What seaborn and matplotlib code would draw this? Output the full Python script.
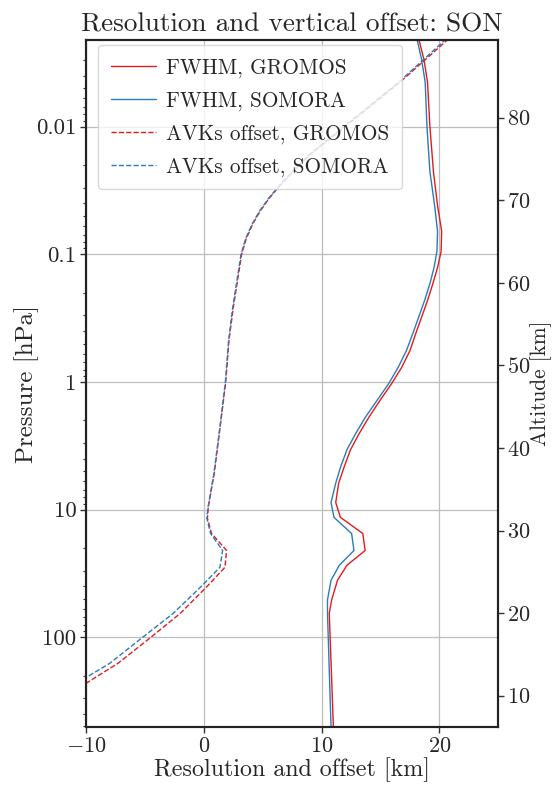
import numpy as np
import pandas as pd
import matplotlib
matplotlib.use("Agg")
import matplotlib.pyplot as plt
import matplotlib.ticker as mticker
import seaborn as sns

# ---- data ----
p_fwhm = [0.00205, 0.003, 0.0045, 0.01, 0.0225, 0.0415, 0.066, 0.095, 0.127, 0.17,
          0.23, 0.31, 0.417, 0.57, 0.77, 1.03, 1.40, 1.9, 2.53, 3.4, 4.67, 6.2, 8.8,
          11.5, 15.4, 20.9, 27.3, 35.8, 51.0, 65.0, 500.0]
fwhm_gromos = [18.25, 18.7, 19.0, 19.2, 19.5, 19.85, 20.2, 20.15, 19.85, 19.45,
               19.0, 18.5, 18.0, 17.5, 16.8, 15.95, 14.95, 14.0, 13.2, 12.45, 11.9, 11.45, 11.2,
               11.6, 13.5, 13.7, 12.15, 11.35, 10.85, 10.65, 11.0]
fwhm_somora = [18.1, 18.5, 18.8, 18.95, 19.2, 19.6, 19.85, 19.8, 19.55, 19.2,
               18.75, 18.25, 17.75, 17.2, 16.5, 15.7, 14.7, 13.7, 12.9, 12.15, 11.6, 11.2, 10.8,
               11.05, 12.55, 12.75, 11.5, 10.8, 10.5, 10.5, 10.8]

p_off = [0.00205, 0.00445, 0.01, 0.0163, 0.0221, 0.029, 0.0366, 0.0463, 0.0585, 0.0753,
         0.1005, 0.261, 0.473, 1.01, 2.11, 5.2, 9.6, 11.7, 15.4, 20.9, 28.3, 40.6, 64.9,
         100.0, 160.0, 229.0, 500.0]
off_gromos = [20.8, 16.7, 12.0, 9.1, 7.66, 6.45, 5.53, 4.75, 4.13, 3.6,
              3.2, 2.5, 2.13, 1.85, 1.42, 0.88, 0.37, 0.3, 0.65, 1.93, 1.79, 0.2, -2.0,
              -4.5, -7.3, -10.0, -15.6]
off_somora = [20.6, 16.6, 11.9, 9.05, 7.6, 6.4, 5.48, 4.7, 4.08, 3.55,
              3.15, 2.45, 2.1, 1.82, 1.4, 0.85, 0.35, 0.25, 0.57, 1.59, 1.36, -0.3, -2.6,
              -5.2, -8.0, -10.8, -16.5]

alt_ticks = [10, 20, 30, 40, 50, 60, 70, 80]
p_ticks = [0.01, 0.1, 1, 10, 100]
p_tick_labels = ["0.01", "0.1", "1", "10", "100"]

RED = "#e31a1c"
BLUE = "#2b7bba"

sns.set_style("ticks")
plt.rcParams.update({
    "font.family": "serif",
    "font.serif": ["cmr10", "DejaVu Serif"],
    "mathtext.fontset": "cm",
    "axes.formatter.use_mathtext": True,
    "axes.unicode_minus": True,
})

fig = plt.figure(figsize=(5.56, 7.86), dpi=100)
ax = fig.add_axes([0.155, 0.075, 0.741, 0.874])

series = [
    (p_fwhm, fwhm_gromos, RED, "-", "FWHM, GROMOS"),
    (p_fwhm, fwhm_somora, BLUE, "-", "FWHM, SOMORA"),
    (p_off, off_gromos, RED, "--", "AVKs offset, GROMOS"),
    (p_off, off_somora, BLUE, "--", "AVKs offset, SOMORA"),
]
for p, x, c, ls, lab in series:
    df = pd.DataFrame({"x": x, "p": p})
    sns.lineplot(data=df, x="x", y="p", sort=False, estimator=None, color=c,
                 linestyle=ls, linewidth=1.0, label=lab, ax=ax)

ax.set_yscale("log")
ax.set_ylim(505, 0.0021)
ax.set_xlim(-10, 25)
ax.yaxis.set_major_locator(mticker.FixedLocator(p_ticks))
ax.yaxis.set_major_formatter(mticker.FixedFormatter(p_tick_labels))
ax.yaxis.set_minor_locator(mticker.LogLocator(base=10, subs=np.arange(2, 10), numticks=20))
ax.yaxis.set_minor_formatter(mticker.NullFormatter())
ax.set_xticks([-10, 0, 10, 20])
ax.grid(True, which="major", color="#bdbdbd", linewidth=0.9)
ax.tick_params(axis="both", which="major", labelsize=16, direction="out", length=4, width=1,
               color="#333333", pad=3)
ax.tick_params(axis="y", which="major", labelsize=16.5)
ax.tick_params(axis="y", which="minor", direction="out", length=2.5, width=0.8, color="#333333")
ax.set_xlabel("Resolution and offset [km]", fontsize=17.3, labelpad=1)
ax.set_ylabel("Pressure [hPa]", fontsize=18)
ax.yaxis.set_label_coords(-0.115, 0.5)
ax.set_title("Resolution and vertical offset: SON", fontsize=19.6, pad=6)
for s in ax.spines.values():
    s.set_linewidth(1.5)
    s.set_color("#222222")

leg = ax.legend(loc="upper left", fontsize=15.3, frameon=True, fancybox=True,
                framealpha=0.8, edgecolor="#d0d0d0", borderpad=0.6, labelspacing=0.62,
                handlelength=2.1, handletextpad=0.5, borderaxespad=0,
                bbox_to_anchor=(0.029, 0.993))

ax2 = ax.twinx()
ax2.set_ylim(6.2, 89.4)
ax2.set_yticks(alt_ticks)
ax2.tick_params(axis="y", labelsize=16, direction="out", length=4, width=1, color="#333333", pad=2)
ax2.set_ylabel("Altitude [km]", fontsize=15.4, labelpad=0)
for s in ax2.spines.values():
    s.set_linewidth(1.5)
    s.set_color("#222222")

fig.savefig("out.png", dpi=100)
